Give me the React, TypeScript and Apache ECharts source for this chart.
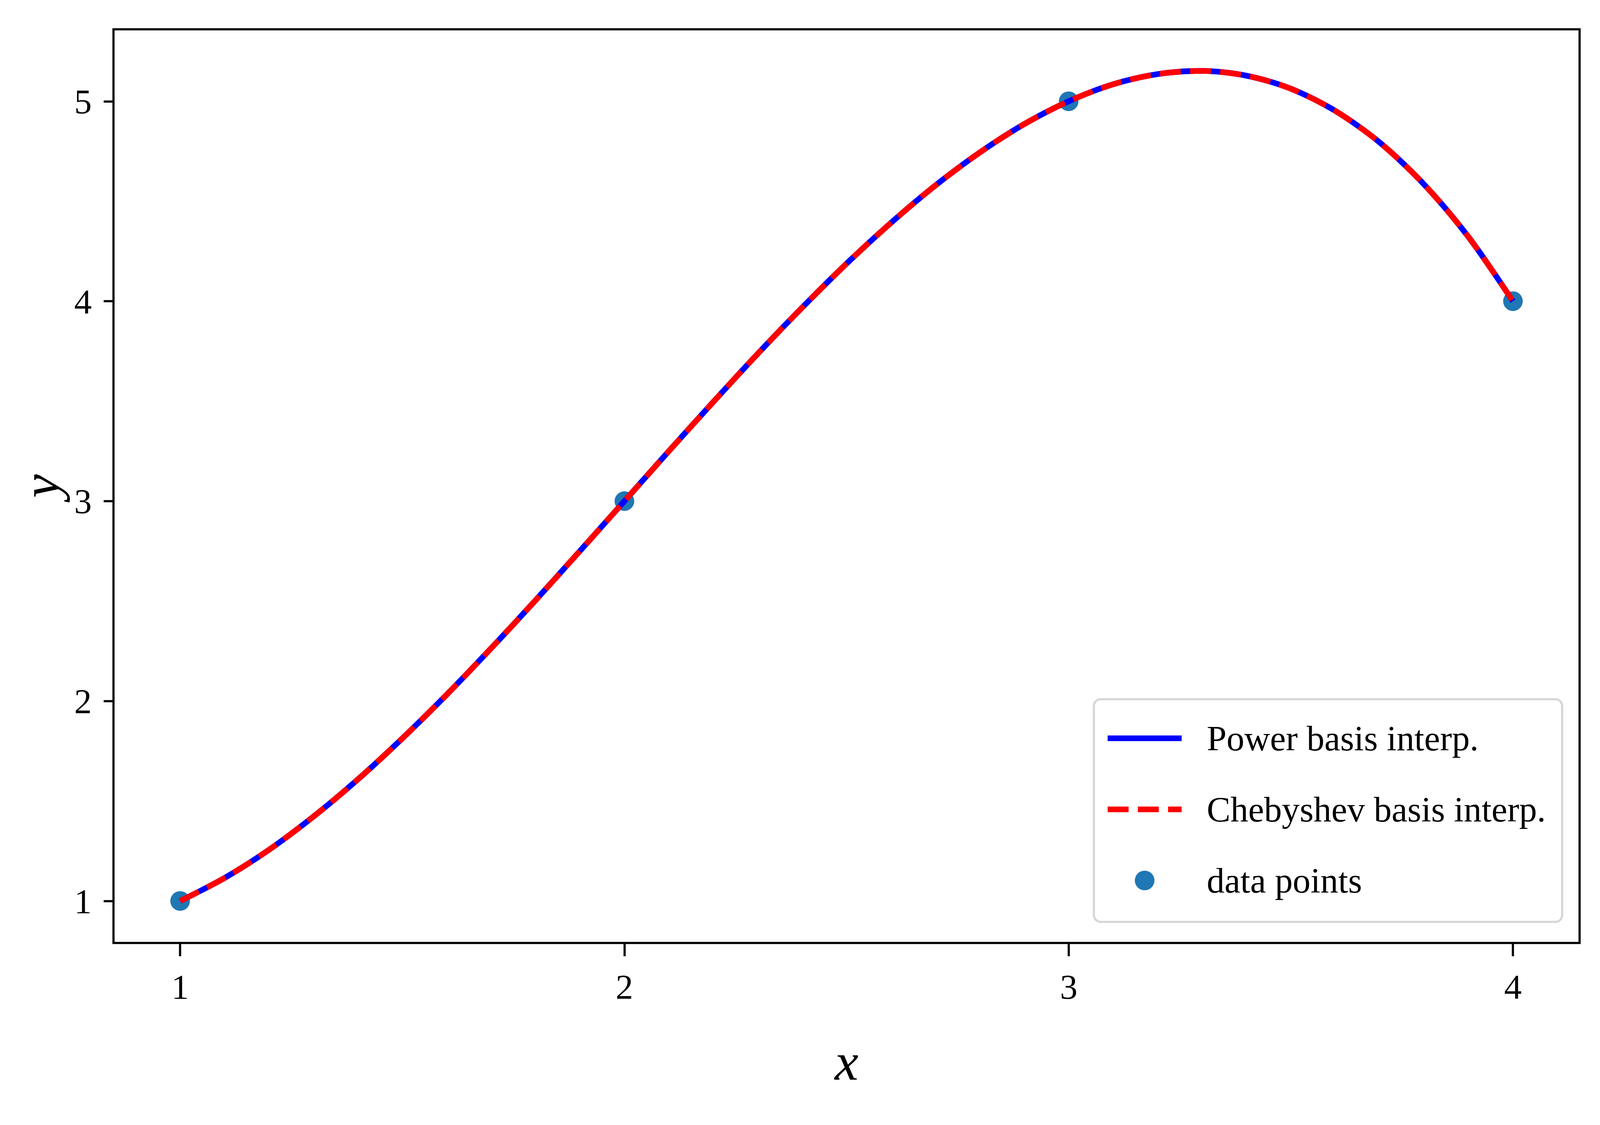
import { useEffect, useRef } from 'react';
import * as echarts from 'echarts';

// ---------------------------------------------------------------------------
// Data
// ---------------------------------------------------------------------------

const pointX = [1, 2, 3, 4];
const pointY = [1, 3, 5, 4];

const curveX = [
  1.0, 1.1, 1.2, 1.3, 1.4, 1.5, 1.6, 1.7, 1.8, 1.9,
  2.0, 2.1, 2.2, 2.3, 2.4, 2.5, 2.6, 2.7, 2.8, 2.9,
  3.0, 3.1, 3.2, 3.3, 3.4, 3.5, 3.6, 3.7, 3.8, 3.9, 4.0,
];
const powerY = [
  1.0, 1.115, 1.256, 1.422, 1.608, 1.813, 2.032, 2.264, 2.504, 2.751,
  3.0, 3.25, 3.496, 3.737, 3.968, 4.188, 4.392, 4.579, 4.744, 4.886,
  5.0, 5.085, 5.136, 5.152, 5.128, 5.063, 4.952, 4.794, 4.584, 4.321, 4.0,
];
const chebyshevY = [
  1.0, 1.115, 1.256, 1.422, 1.608, 1.813, 2.032, 2.264, 2.504, 2.751,
  3.0, 3.25, 3.496, 3.737, 3.968, 4.188, 4.392, 4.579, 4.744, 4.886,
  5.0, 5.085, 5.136, 5.152, 5.128, 5.063, 4.952, 4.794, 4.584, 4.321, 4.0,
];

const xTicks = [1, 2, 3, 4];
const yTicks = [1, 2, 3, 4, 5];

const SERIES_NAMES = ['Power basis interp.', 'Chebyshev basis interp.', 'data points'];

// ---------------------------------------------------------------------------
// Option
// ---------------------------------------------------------------------------

const FONT = '"Liberation Serif", "Times New Roman", serif';
const REF_W = 5879;
const REF_H = 2880;

function zip(xs: number[], ys: number[]): number[][] {
  return xs.map((x, i) => [x, ys[i]]);
}

// layout is measured on the 5879x2880 reference, then scaled to the real canvas:
// horizontal distances by sx, vertical ones by sy, strokes/marks by s
function buildOption(width: number, height: number): echarts.EChartsOption {
  const sx = width / REF_W;
  const sy = height / REF_H;
  const s = Math.min(sx, sy);
  const f = s * 1.03; // font scale
  const tickLabel = { fontFamily: FONT, fontSize: 125 * f, color: '#000' };
  const axisName = { fontFamily: FONT, fontStyle: 'italic' as const, fontSize: 190 * f, color: '#000' };
  const tick = (values: number[], len: number) => ({
    show: true,
    inside: false,
    length: len,
    lineStyle: { color: '#000', width: 8 * s },
    customValues: values,
  });
  // hides the little symbol that echarts puts on a line series' legend icon
  const noSymbol = {
    itemStyle: { color: 'rgba(0,0,0,0)', borderColor: 'rgba(0,0,0,0)', borderWidth: 0, opacity: 0 },
  };

  return {
    animation: false,
    backgroundColor: '#fff',
    grid: {
      left: 417 * sx,
      top: 75 * sy,
      right: 75 * sx,
      bottom: 466 * sy,
      show: true,
      borderColor: '#000',
      borderWidth: 8 * s,
      backgroundColor: 'transparent',
      containLabel: false,
      outerBoundsMode: 'none',
    } as any,
    xAxis: {
      type: 'value',
      min: 0.85,
      max: 4.15,
      splitLine: { show: false },
      axisLine: { show: false },
      axisTick: tick(xTicks, 34 * sy),
      axisLabel: { ...tickLabel, margin: 66 * sy, customValues: xTicks },
      name: 'x',
      nameLocation: 'middle',
      nameGap: 236 * sy,
      nameTextStyle: axisName,
    } as any,
    yAxis: {
      type: 'value',
      min: 0.79,
      max: 5.36,
      splitLine: { show: false },
      axisLine: { show: false },
      axisTick: tick(yTicks, 36 * sx),
      axisLabel: { ...tickLabel, margin: 80 * sx, customValues: yTicks },
      name: 'y',
      nameLocation: 'middle',
      nameRotate: 90,
      nameGap: 170 * sx,
      nameTextStyle: axisName,
    } as any,
    legend: {
      orient: 'vertical',
      right: 139 * sx,
      top: 1790 * sy,
      padding: [30 * sy, 60 * sx, 36 * sy, 40 * sx],
      itemWidth: 272 * sx,
      itemHeight: 72 * s,
      itemGap: 42 * sy,
      borderColor: '#d6d6d6',
      borderWidth: 8 * s,
      borderRadius: 25 * s,
      backgroundColor: 'rgba(255,255,255,0.8)',
      textStyle: {
        fontFamily: FONT,
        fontSize: 127 * f,
        color: '#000',
        lineHeight: 140 * sy,
        padding: [0, 0, 0, 85 * sx],
      },
      lineStyle: { width: 21 * s } as any,
      data: [
        { name: SERIES_NAMES[0], ...noSymbol },
        { name: SERIES_NAMES[1], ...noSymbol },
        { name: SERIES_NAMES[2] },
      ],
    } as any,
    series: [
      {
        name: SERIES_NAMES[2],
        type: 'scatter',
        data: zip(pointX, pointY),
        symbol: 'circle',
        symbolSize: 72 * s,
        itemStyle: { color: '#1f77b4', borderWidth: 0, opacity: 1 },
        z: 1,
      },
      {
        name: SERIES_NAMES[0],
        type: 'line',
        data: zip(curveX, powerY),
        symbol: 'none',
        smooth: 0.3,
        lineStyle: { color: '#0000ff', width: 21 * s, type: 'solid' },
        itemStyle: { color: '#0000ff' },
        z: 2,
      },
      {
        name: SERIES_NAMES[1],
        type: 'line',
        data: zip(curveX, chebyshevY),
        symbol: 'none',
        smooth: 0.3,
        lineStyle: { color: '#ff0000', width: 21 * s, type: [77 * s, 34 * s] },
        itemStyle: { color: '#ff0000' },
        z: 3,
      },
    ],
  };
}

// ---------------------------------------------------------------------------
// Component
// ---------------------------------------------------------------------------

export default function App() {
  const containerRef = useRef<HTMLDivElement | null>(null);

  useEffect(() => {
    if (!containerRef.current) return;
    const chart = echarts.init(containerRef.current, undefined, { renderer: 'svg' });
    chart.setOption(buildOption(chart.getWidth(), chart.getHeight()));

    const handleResize = () => {
      chart.resize();
      chart.setOption(buildOption(chart.getWidth(), chart.getHeight()));
    };
    window.addEventListener('resize', handleResize);
    return () => {
      window.removeEventListener('resize', handleResize);
      chart.dispose();
    };
  }, []);

  return (
    <div
      ref={containerRef}
      style={{ position: 'fixed', left: 0, top: 0, width: '100vw', height: '100vh', background: '#fff' }}
    />
  );
}
